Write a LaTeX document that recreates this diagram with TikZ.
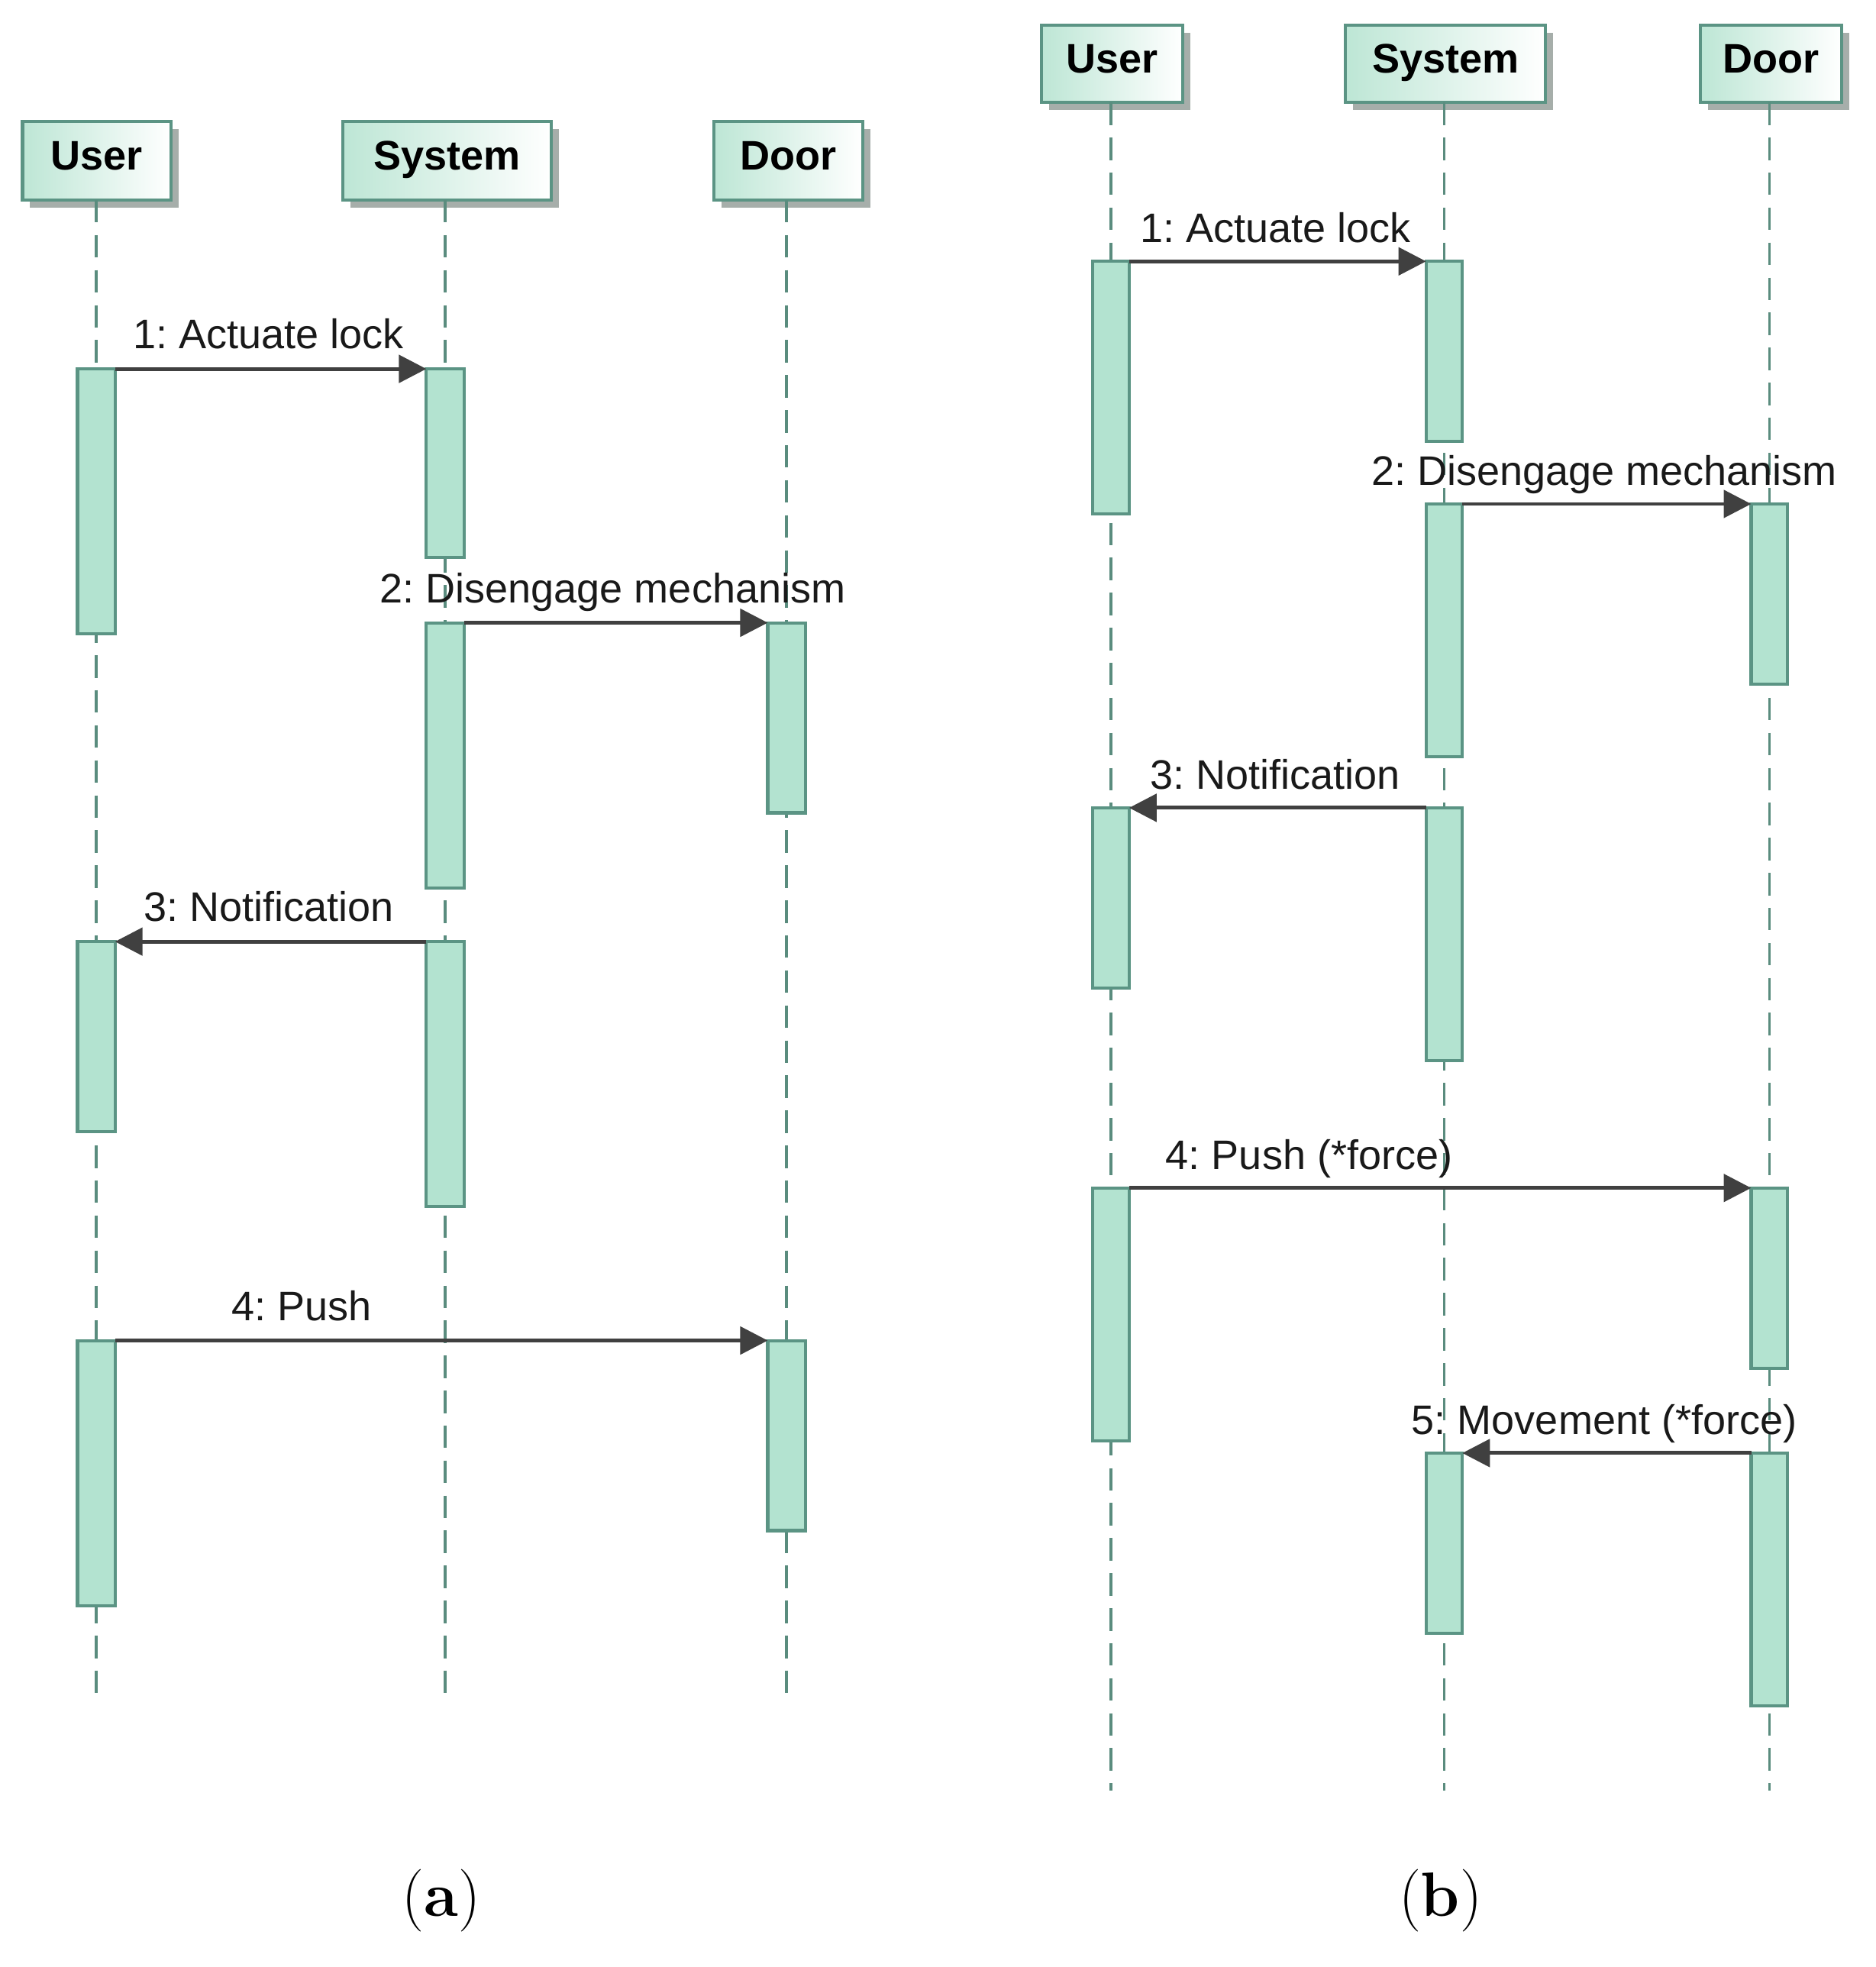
\documentclass[tikz,border=0pt]{standalone}
\usepackage{fontspec}
\newfontfamily\diag{Liberation Sans}
\usetikzlibrary{arrows.meta,shadows}
\definecolor{actfill}{HTML}{B3E3D0}
\definecolor{actline}{HTML}{5B9484}
\definecolor{lifecol}{HTML}{5A8C7E}
\definecolor{boxgreen}{HTML}{BDE6D5}
\definecolor{shadowgray}{HTML}{A6AEAA}
\definecolor{msgline}{HTML}{404040}
\begin{document}
\begin{tikzpicture}[x=1pt,y=-1pt,
  part/.style={draw=actline, line width=2.5pt, left color=boxgreen, right color=white,
    inner sep=0pt, outer sep=0pt, minimum height=63pt, text height=24pt, text depth=9pt,
    font=\diag\bfseries\fontsize{33}{36}\selectfont,
    general shadow={shadow xshift=6pt, shadow yshift=-6pt, fill=shadowgray}},
  act/.style={draw=actline, fill=actfill, line width=2.5pt, minimum width=30pt,
    inner sep=0pt, outer sep=0pt},
  lifeline/.style={draw=lifecol, line width=2pt, dash pattern=on 18pt off 10pt},
  msg/.style={draw=msgline, line width=3pt, -{Triangle[length=22pt,width=22pt]}},
  lbl/.style={anchor=base, inner sep=0pt, text=black!90, font=\diag\fontsize{33}{38}\selectfont},
  subcap/.style={font=\fontsize{50}{56}\selectfont}
]
\useasboundingbox (0,0) rectangle (1500,1573);

% ---------- (a) ----------
\node[part, minimum width=119pt] (aUser) at (77.5,128.5) {User};
\node[part, minimum width=167pt] (aSys) at (357.5,128.5) {System};
\node[part, minimum width=119pt] (aDoor) at (630.5,128.5) {Door};
\coordinate (aUend) at (77,1362);
\coordinate (aSend) at (356,1362);
\coordinate (aDend) at (629,1362);
\draw[lifeline] (aUser.south -| aUend) -- (aUend);
\draw[lifeline] (aSys.south -| aSend) -- (aSend);
\draw[lifeline] (aDoor.south -| aDend) -- (aDend);

\node[act, minimum height=212pt] (aU1) at (77,401) {};
\node[act, minimum height=152pt] (aU2) at (77,829) {};
\node[act, minimum height=212pt] (aU3) at (77,1178) {};
\node[act, minimum height=151pt] (aS1) at (356,370.5) {};
\node[act, minimum height=212pt] (aS2) at (356,604) {};
\node[act, minimum height=212pt] (aS3) at (356,859) {};
\node[act, minimum height=152pt] (aD1) at (629,574) {};
\node[act, minimum height=152pt] (aD2) at (629,1148) {};

\draw[msg] (aU1.north east) -- (aS1.north west);
\draw[msg] (aS2.north east) -- (aD1.north west);
\draw[msg] (aS3.north west) -- (aU2.north east);
\draw[msg] (aU3.north east) -- (aD2.north west);

\node[lbl] (la1) at (214.5,279) {1:\ Actuate lock};
\node[lbl] (la2) at (490,482) {2:\ Disengage mechanism};
\node[lbl] (la3) at (215,737) {3:\ Notification};
\node[lbl] (la4) at (241,1056) {4:\ Push};

\node[subcap] (capa) at (353,1520) {(\textbf{a})};

% ---------- (b) ----------
\node[part, minimum width=113pt, minimum height=62pt] (bUser) at (889.5,51) {User};
\node[part, minimum width=160pt, minimum height=62pt] (bSys) at (1156,51) {System};
\node[part, minimum width=113pt, minimum height=62pt] (bDoor) at (1416.5,51) {Door};
\coordinate (bUend) at (888.5,1432);
\coordinate (bSend) at (1155,1432);
\coordinate (bDend) at (1415,1432);
\draw[lifeline] (bUser.south -| bUend) -- (bUend);
\draw[lifeline] (bSys.south -| bSend) -- (bSend);
\draw[lifeline] (bDoor.south -| bDend) -- (bDend);

\begin{scope}[act/.append style={minimum width=29pt}]
\node[act, minimum height=202pt] (bU1) at (888.5,310) {};
\node[act, minimum height=144pt] (bU2) at (888.5,718) {};
\node[act, minimum height=202pt] (bU3) at (888.5,1051) {};
\node[act, minimum height=144pt] (bS1) at (1155,281) {};
\node[act, minimum height=202pt] (bS2) at (1155,504) {};
\node[act, minimum height=202pt] (bS3) at (1155,747) {};
\node[act, minimum height=144pt] (bS4) at (1155,1234) {};
\node[act, minimum height=144pt] (bD1) at (1415,475) {};
\node[act, minimum height=144pt] (bD2) at (1415,1022) {};
\node[act, minimum height=202pt] (bD3) at (1415,1263) {};
\end{scope}

\draw[msg] (bU1.north east) -- (bS1.north west);
\draw[msg] (bS2.north east) -- (bD1.north west);
\draw[msg] (bS3.north west) -- (bU2.north east);
\draw[msg] (bU3.north east) -- (bD2.north west);
\draw[msg] (bD3.north west) -- (bS4.north east);

\node[lbl] (lb1) at (1020,194) {1:\ Actuate lock};
\node[lbl] (lb2) at (1283,388) {2:\ Disengage mechanism};
\node[lbl] (lb3) at (1020,631) {3:\ Notification};
\node[lbl] (lb4) at (1047,935) {4:\ Push (*force)};
\node[lbl] (lb5) at (1283,1147) {5:\ Movement (*force)};

\node[subcap] (capb) at (1152,1520) {(\textbf{b})};
\end{tikzpicture}
\end{document}
